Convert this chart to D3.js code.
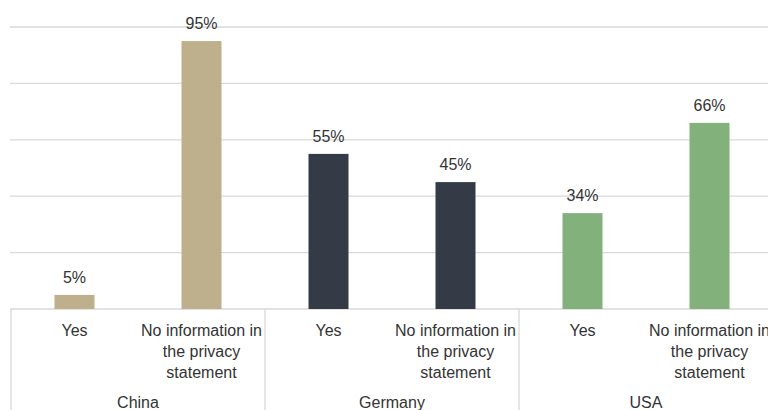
<!DOCTYPE html>
<html>
<head>
<meta charset="utf-8">
<script src="https://cdn.jsdelivr.net/npm/d3@7"></script>
<style>
	body { margin: 0; background: #fff; }
	text { font-family: "Liberation Sans", Arial, sans-serif; fill: #333; }
</style>
</head>
<body>
<div class="chart"></div>
<script>
var countries = ["China", "Germany", "USA"];
var answers = ["Yes", "No information in|the privacy|statement"];
var shares = [[5, 95], [55, 45], [34, 66]];
var colors = ["#beb08c", "#343a46", "#82b17c"];
var yTicks = [0, 20, 40, 60, 80, 100];

var width = 768;
var height = 410;
var plotLeft = 11, plotRight = 773, plotTop = 27, plotBase = 309;

var bars = [];
countries.forEach(function(c, i) {
	answers.forEach(function(a, j) {
		bars.push({ key: c + "-" + j, country: c, answer: a, value: shares[i][j], ci: i });
	});
});

var svg = d3.select(".chart")
	.append("svg")
	.attr("width", width)
	.attr("height", height);

var x = d3.scaleBand()
	.domain(bars.map(function(d) { return d.key; }))
	.range([plotLeft, plotRight])
	.paddingInner(0.685)
	.paddingOuter(0.3425);

var y = d3.scaleLinear()
	.domain([0, 100])
	.range([plotBase, plotTop]);

// gridlines
svg.append("g")
	.selectAll("line")
	.data(yTicks)
	.enter()
	.append("line")
	.attr("x1", plotLeft - 1)
	.attr("x2", width)
	.attr("y1", function(d) { return y(d); })
	.attr("y2", function(d) { return y(d); })
	.attr("stroke", "#d9d9d9")
	.attr("stroke-width", 1.3);

// group separators
var groupEdges = [0, 2, 4].map(function(i) { return x(bars[i].key) - x.step() * 0.3425; });
svg.append("g")
	.selectAll("line")
	.data(groupEdges)
	.enter()
	.append("line")
	.attr("x1", function(d) { return d; })
	.attr("x2", function(d) { return d; })
	.attr("y1", plotBase)
	.attr("y2", height)
	.attr("stroke", "#d9d9d9")
	.attr("stroke-width", 1.3);

// bars
svg.append("g")
	.selectAll("rect")
	.data(bars)
	.enter()
	.append("rect")
	.attr("x", function(d) { return x(d.key); })
	.attr("width", x.bandwidth())
	.attr("y", function(d) { return y(d.value); })
	.attr("height", function(d) { return plotBase - y(d.value); })
	.attr("fill", function(d) { return colors[d.ci]; });

// value labels
svg.append("g")
	.selectAll("text")
	.data(bars)
	.enter()
	.append("text")
	.attr("x", function(d) { return x(d.key) + x.bandwidth() / 2; })
	.attr("y", function(d) { return y(d.value) - 12; })
	.attr("text-anchor", "middle")
	.attr("font-size", 16)
	.text(function(d) { return d.value + "%"; });

// category labels
var cat = svg.append("g")
	.selectAll("text")
	.data(bars)
	.enter()
	.append("text")
	.attr("text-anchor", "middle")
	.attr("font-size", 16)
	.attr("y", 336);

cat.selectAll("tspan")
	.data(function(d) {
		return d.answer.split("|").map(function(s) { return { s: s, cx: x(d.key) + x.bandwidth() / 2 }; });
	})
	.enter()
	.append("tspan")
	.attr("x", function(d) { return d.cx; })
	.attr("dy", function(d, i) { return i ? 20.8 : 0; })
	.text(function(d) { return d.s; });

// country labels
svg.append("g")
	.selectAll("text")
	.data(countries)
	.enter()
	.append("text")
	.attr("x", function(d, i) {
		return (x(bars[i * 2].key) + x(bars[i * 2 + 1].key) + x.bandwidth()) / 2;
	})
	.attr("y", 408)
	.attr("text-anchor", "middle")
	.attr("font-size", 16)
	.text(function(d) { return d; });
</script>
</body>
</html>
